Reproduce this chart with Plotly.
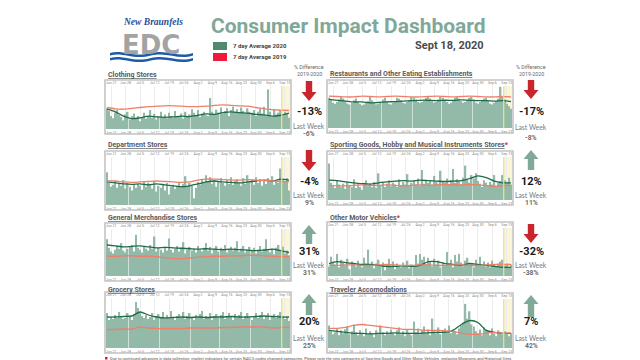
import plotly.graph_objects as go
import pandas as pd

W, H = 640, 360

# ---------------- data ----------------
dates = pd.date_range('2020-06-19', '2020-09-15', freq='D')   # daily bars (89)
line_dates = dates[::4]                                       # 7-day avg readings (23)

tick_vals = pd.date_range('2020-06-21', '2020-09-13', freq='7D')
tick_text = ['Jun 21', 'Jun 28', 'Jul 5', 'Jul 12', 'Jul 19', 'Jul 26', 'Aug 2',
             'Aug 9', 'Aug 16', 'Aug 23', 'Aug 30', 'Sep 6', 'Sep 13']

titles = ['Clothing Stores',
          'Restaurants and Other Eating Establishments',
          'Department Stores',
          'Sporting Goods, Hobby and Musical Instruments Stores',
          'General Merchandise Stores',
          'Other Motor Vehicles',
          'Grocery Stores',
          'Traveler Accomodations']
flagged = [False, False, False, True, False, True, False, False]

clothing_bars = [48, 42, 30, 25, 38, 45, 33, 28, 20, 34, 40, 22, 30, 36, 25, 30, 18, 28, 38, 24, 30,
                 44, 26, 35, 22, 30, 40, 28, 34, 25, 38, 30, 26, 42, 30, 28, 36, 24, 40, 30, 34, 46,
                 38, 30, 44, 28, 36, 40, 32, 30, 72, 40, 34, 45, 38, 50, 36, 42, 48, 30, 44, 52, 40,
                 46, 38, 50, 42, 36, 48, 40, 38, 44, 30, 40, 48, 36, 52, 30, 92, 40, 28, 46, 34, 38,
                 44, 30, 40, 36, 26]
restaurant_bars = [72, 66, 60, 58, 62, 68, 74, 70, 64, 58, 56, 60, 66, 70, 62, 58, 54, 56, 60, 64, 75,
                   66, 60, 56, 58, 62, 68, 72, 64, 58, 56, 60, 64, 72, 70, 66, 60, 58, 62, 66, 74, 72,
                   68, 62, 60, 62, 66, 72, 76, 70, 64, 60, 62, 68, 74, 72, 68, 62, 58, 60, 66, 72, 74,
                   70, 64, 60, 62, 66, 72, 74, 68, 60, 58, 62, 66, 70, 72, 64, 58, 56, 60, 64, 70, 98,
                   76, 68, 58, 52, 46]
department_bars = [68, 46, 38, 42, 50, 36, 44, 40, 52, 34, 46, 38, 30, 42, 36, 44, 40, 32, 48, 38, 46,
                   42, 34, 50, 28, 40, 36, 44, 30, 46, 22, 38, 42, 34, 40, 48, 36, 44, 60, 38, 46, 40,
                   14, 36, 48, 42, 54, 46, 62, 50, 58, 44, 52, 38, 48, 56, 46, 40, 52, 44, 58, 42, 50,
                   54, 46, 40, 56, 44, 62, 48, 52, 42, 58, 46, 54, 40, 50, 44, 56, 48, 60, 42, 52, 46,
                   76, 54, 48, 56, 30]
sporting_bars = [85, 40, 32, 28, 46, 36, 30, 38, 26, 42, 34, 30, 48, 28, 36, 30, 24, 40, 46, 32, 38,
                 30, 42, 28, 62, 34, 40, 30, 38, 46, 32, 40, 36, 30, 48, 34, 42, 36, 60, 32, 40, 44,
                 36, 50, 34, 70, 38, 44, 40, 46, 36, 56, 42, 38, 68, 44, 40, 50, 36, 46, 72, 40, 48,
                 44, 36, 52, 80, 46, 40, 58, 50, 62, 44, 38, 30, 46, 40, 34, 42, 36, 58, 32, 40, 44,
                 58, 46, 40, 52, 36]
general_bars = [78, 60, 52, 48, 56, 64, 58, 70, 54, 50, 58, 62, 66, 52, 88, 60, 56, 50, 62, 58, 54,
                66, 58, 84, 52, 60, 56, 50, 62, 54, 80, 56, 50, 58, 64, 52, 60, 72, 48, 56, 62, 54,
                58, 50, 64, 56, 52, 60, 70, 54, 62, 48, 58, 64, 52, 60, 56, 66, 50, 58, 62, 54, 60,
                74, 52, 58, 64, 50, 56, 62, 54, 60, 48, 56, 64, 52, 58, 78, 54, 50, 58, 46, 60, 66,
                56, 62, 48, 54, 44]
motor_bars = [20, 40, 30, 24, 46, 18, 34, 28, 22, 36, 14, 30, 26, 20, 32, 24, 18, 38, 26, 55, 22,
              30, 16, 26, 34, 20, 28, 12, 24, 36, 18, 30, 14, 26, 20, 18, 28, 22, 32, 16, 24, 20,
              44, 26, 46, 34, 40, 24, 38, 30, 20, 36, 24, 32, 18, 28, 22, 50, 26, 34, 18, 44, 30,
              46, 28, 20, 32, 38, 24, 26, 18, 34, 24, 40, 22, 30, 20, 28, 18, 32, 24, 20, 26, 30,
              34, 22, 26, 18, 24]
grocery_bars = [70, 56, 62, 58, 66, 60, 72, 64, 58, 60, 70, 62, 56, 68, 92, 80, 70, 64, 60, 66, 58,
                62, 70, 56, 64, 68, 60, 72, 58, 66, 60, 74, 62, 56, 64, 68, 60, 72, 58, 64, 70, 62,
                56, 66, 60, 68, 74, 58, 64, 62, 70, 56, 64, 68, 60, 66, 72, 58, 64, 70, 62, 56, 68,
                60, 66, 72, 58, 64, 70, 62, 56, 64, 70, 60, 66, 72, 58, 64, 70, 56, 62, 68, 60, 66,
                72, 64, 58, 62, 54]
traveler_bars = [46, 34, 28, 32, 40, 26, 36, 30, 38, 44, 28, 34, 48, 32, 26, 36, 30, 24, 40, 28, 34,
                 30, 22, 36, 28, 46, 32, 26, 34, 28, 38, 30, 26, 36, 42, 28, 34, 24, 38, 30, 26, 54,
                 32, 40, 28, 36, 44, 30, 38, 26, 60, 34, 30, 42, 28, 36, 40, 32, 46, 30, 38, 34, 28,
                 40, 46, 52, 90, 60, 75, 48, 44, 34, 30, 38, 26, 42, 36, 34, 26, 40, 30, 24, 36, 32,
                 28, 34, 30, 24, 30]

clothing_2020 = [46, 40, 30, 24, 26, 30, 28, 27, 28, 30, 29, 32, 35, 34, 38, 40, 38, 37, 34, 33, 30, 32, 37]
clothing_2019 = [50, 47, 46, 48, 50, 52, 53, 54, 54, 53, 52, 52, 53, 55, 56, 55, 54, 53, 50, 47, 45, 44, 43]
restaurant_2020 = [68, 66, 64, 62, 62, 60, 61, 62, 63, 64, 65, 66, 66, 65, 66, 66, 67, 66, 65, 65, 64, 65, 63]
restaurant_2019 = [76, 75, 74, 74, 76, 75, 74, 75, 76, 75, 74, 74, 75, 76, 75, 74, 75, 76, 75, 74, 74, 75, 74]
department_2020 = [48, 46, 44, 43, 44, 42, 44, 42, 40, 38, 40, 44, 48, 50, 48, 47, 46, 48, 50, 52, 50, 54, 52]
department_2019 = [50, 50, 48, 47, 48, 49, 50, 49, 48, 47, 48, 52, 54, 54, 53, 52, 52, 53, 52, 51, 50, 49, 48]
sporting_2020 = [46, 45, 42, 40, 38, 37, 40, 42, 44, 45, 44, 46, 45, 44, 43, 44, 45, 50, 56, 52, 44, 40, 40]
sporting_2019 = [34, 33, 33, 34, 35, 34, 34, 35, 34, 33, 34, 35, 34, 35, 36, 35, 35, 36, 35, 34, 32, 33, 34]
general_2020 = [66, 64, 62, 63, 64, 62, 60, 61, 60, 59, 58, 57, 58, 57, 56, 57, 56, 55, 54, 55, 57, 54, 50]
general_2019 = [42, 42, 43, 43, 42, 42, 41, 39, 37, 37, 38, 40, 41, 42, 42, 43, 43, 44, 44, 43, 42, 41, 41]
motor_2020 = [26, 30, 28, 26, 24, 24, 22, 20, 20, 21, 20, 22, 30, 30, 26, 24, 22, 26, 24, 22, 20, 18, 18]
motor_2019 = [22, 22, 23, 23, 22, 22, 23, 24, 23, 22, 22, 23, 23, 22, 22, 23, 23, 22, 22, 23, 24, 24, 24]
grocery_2020 = [62, 62, 63, 64, 72, 66, 62, 60, 61, 62, 61, 62, 61, 62, 62, 63, 62, 62, 63, 64, 63, 62, 62]
grocery_2019 = [37, 37, 38, 38, 42, 40, 39, 39, 39, 39, 40, 40, 40, 40, 41, 41, 42, 42, 42, 42, 40, 41, 41]
traveler_2020 = [36, 34, 32, 30, 30, 29, 30, 30, 31, 30, 30, 30, 31, 32, 32, 36, 48, 56, 52, 36, 32, 30, 30]
traveler_2019 = [40, 40, 42, 46, 48, 46, 44, 42, 40, 38, 38, 37, 36, 36, 35, 34, 30, 28, 28, 30, 32, 30, 31]

bars_all = [clothing_bars, restaurant_bars, department_bars, sporting_bars,
            general_bars, motor_bars, grocery_bars, traveler_bars]
avg2020_all = [clothing_2020, restaurant_2020, department_2020, sporting_2020,
               general_2020, motor_2020, grocery_2020, traveler_2020]
avg2019_all = [clothing_2019, restaurant_2019, department_2019, sporting_2019,
               general_2019, motor_2019, grocery_2019, traveler_2019]

pct_diff = ['-13%', '-17%', '-4%', '12%', '31%', '-32%', '20%', '7%']
last_week = ['-6%', '-8%', '9%', '11%', '31%', '-38%', '25%', '42%']

# ---------------- styling / geometry ----------------
BAR_C = '#93b9a8'
G_LINE = '#1f6a47'
R_LINE = '#ee7f6a'
UP_C = '#82a898'
DOWN_C = '#c9252d'

col_x = [(97, 283), (319, 505)]
ind_x = [301, 523]
frames_y = [(72, 126), (72, 125), (143, 202), (143, 197),
            (215, 273), (214, 273), (284, 345), (285, 345)]
title_y = [67, 66, 137, 137, 210, 210, 282, 282]
ind_rows = [  # arrow top, arrow bottom, pct y, "Last Week" y, value y
    (73, 93, 103, 118, 126.5), (72, 91, 103, 119, 130),
    (142, 163, 173, 187, 195), (142, 162, 173, 187, 195),
    (217, 236, 243, 257, 265), (216, 235, 243, 257, 264.5),
    (286, 307, 313, 329.5, 337.5), (287, 309, 313, 329.5, 337.5)]


def px(x):
    return x / W


def py(y):
    return 1 - y / H


fig = go.Figure()
layout = dict(width=W, height=H, margin=dict(l=0, r=0, t=0, b=0),
              paper_bgcolor='white', plot_bgcolor='white', showlegend=False,
              bargap=0.28, font=dict(family='Roboto, Arial, sans-serif'))
shapes, annotations = [], []
x_range = ['2020-06-18 12:00', '2020-09-15 12:00']

for i in range(8):
    k = i + 1
    col = i % 2
    x0, x1 = col_x[col]
    fy0, fy1 = frames_y[i]
    nb, nt = 2 * k - 1, 2 * k
    xb = 'x' if nb == 1 else f'x{nb}'
    xt = f'x{nt}'
    yk = 'y' if k == 1 else f'y{k}'
    xdom = [px(x0 + 1), px(x1 - 1)]
    ydom = [py(fy1 - 5), py(fy0 + 6)]

    fig.add_trace(go.Bar(x=dates, y=bars_all[i], marker=dict(color=BAR_C, line_width=0),
                         xaxis=xb, yaxis=yk))
    fig.add_trace(go.Scatter(x=line_dates, y=avg2020_all[i], mode='lines',
                             line=dict(color=G_LINE, width=1.3, shape='spline', smoothing=0.8),
                             xaxis=xb, yaxis=yk))
    fig.add_trace(go.Scatter(x=line_dates, y=avg2019_all[i], mode='lines',
                             line=dict(color=R_LINE, width=1.3, shape='spline', smoothing=0.8),
                             xaxis=xt, yaxis=yk))

    axfont = dict(size=3.6, color='#888888')
    layout['xaxis' if nb == 1 else f'xaxis{nb}'] = dict(
        domain=xdom, anchor=yk, range=x_range, type='date', side='bottom',
        tickvals=tick_vals, ticktext=tick_text, tickfont=axfont, ticklen=0,
        showgrid=True, gridcolor='#ececec', gridwidth=0.6, zeroline=False, showline=False)
    layout[f'xaxis{nt}'] = dict(
        overlaying=xb, anchor=yk, range=x_range, type='date', side='top',
        tickvals=tick_vals, ticktext=tick_text, tickfont=axfont, ticklen=0,
        showgrid=False, zeroline=False, showline=False)
    layout['yaxis' if k == 1 else f'yaxis{k}'] = dict(
        domain=ydom, anchor=xb, range=[0, 100], showticklabels=False,
        showgrid=False, zeroline=False, showline=False)

    # current-week highlight
    shapes.append(dict(type='rect', xref=xb, yref=f'{yk} domain', x0='2020-09-11 12:00',
                       x1=x_range[1], y0=0, y1=1, fillcolor='#fbf5d8', line_width=0, layer='below'))
    shapes.append(dict(type='line', xref=xb, yref=f'{yk} domain', x0='2020-09-11 12:00',
                       x1='2020-09-11 12:00', y0=0, y1=1, line=dict(color='#ece07c', width=1.2)))
    # frame
    shapes.append(dict(type='rect', xref='paper', yref='paper', x0=px(x0), x1=px(x1),
                       y0=py(fy1), y1=py(fy0), line=dict(color='#c4c4c4', width=1.6)))

    # title
    t = f'<b><u>{titles[i]}</u></b>'
    if flagged[i]:
        t += "<span style='color:#e8132c'><b>*</b></span>"
    annotations.append(dict(text=t, x=px(x0 + 1), y=py(title_y[i]), xref='paper', yref='paper',
                            xanchor='left', yanchor='middle', showarrow=False,
                            font=dict(size=7, color='#5a5a5a', family='Roboto')))

    # indicator arrow
    cx = ind_x[col]
    at, ab, pyv, lwy, vy = ind_rows[i]
    hw, sw, hh = 7.5, 3.2, 9
    down = pct_diff[i].startswith('-')
    if down:
        pts = [(cx - sw, at), (cx + sw, at), (cx + sw, ab - hh), (cx + hw, ab - hh),
               (cx, ab), (cx - hw, ab - hh), (cx - sw, ab - hh)]
    else:
        pts = [(cx - sw, ab), (cx + sw, ab), (cx + sw, at + hh), (cx + hw, at + hh),
               (cx, at), (cx - hw, at + hh), (cx - sw, at + hh)]
    path = 'M ' + ' L '.join(f'{px(a):.5f},{py(b):.5f}' for a, b in pts) + ' Z'
    shapes.append(dict(type='path', xref='paper', yref='paper', path=path,
                       fillcolor=DOWN_C if down else UP_C, line_width=0))
    annotations.append(dict(text=f'<b>{pct_diff[i]}</b>', x=px(cx), y=py(pyv), xref='paper',
                            yref='paper', showarrow=False, xanchor='center', yanchor='middle',
                            font=dict(size=11, color='#1a1a1a', family='Roboto')))
    annotations.append(dict(text='Last Week', x=px(cx), y=py(lwy), xref='paper', yref='paper',
                            showarrow=False, xanchor='center', yanchor='middle',
                            font=dict(size=6.8, color='#7a7a7a', family='Lato')))
    annotations.append(dict(text=f'<b>{last_week[i]}</b>', x=px(cx), y=py(vy), xref='paper',
                            yref='paper', showarrow=False, xanchor='center', yanchor='middle',
                            font=dict(size=6.8, color='#6e6e6e', family='Roboto')))

# "% Difference" headers
for cx in ind_x:
    annotations.append(dict(text='% Difference', x=px(cx), y=py(59), xref='paper',
                            yref='paper', showarrow=False, xanchor='center', yanchor='middle',
                            font=dict(size=5.3, color='#666666')))
    annotations.append(dict(text='2019-2020', x=px(cx), y=py(66), xref='paper',
                            yref='paper', showarrow=False, xanchor='center', yanchor='middle',
                            font=dict(size=5.3, color='#666666')))

# header: title, date, legend
annotations.append(dict(text='<b>Consumer Impact Dashboard</b>', x=px(340), y=py(18),
                        xref='paper', yref='paper', showarrow=False, xanchor='center',
                        yanchor='middle', font=dict(size=21, color='#80a898', family='Roboto')))
annotations.append(dict(text='<b>Sept 18, 2020</b>', x=px(478), y=py(38), xref='paper',
                        yref='paper', showarrow=False, xanchor='right', yanchor='middle',
                        font=dict(size=11, color='#4a4a4a', family='Roboto')))
legend_items = [('7 day Average 2020', '#4f8a6e', 38), ('7 day Average 2019', '#ee1c3a', 49)]
for lab, c, ly in legend_items:
    shapes.append(dict(type='rect', xref='paper', yref='paper', x0=px(205), x1=px(219),
                       y0=py(ly + 4), y1=py(ly - 4), fillcolor=c, line_width=0))
    annotations.append(dict(text=f'<b>{lab}</b>', x=px(223), y=py(ly), xref='paper', yref='paper',
                            showarrow=False, xanchor='left', yanchor='middle',
                            font=dict(size=6, color='#444444', family='Roboto')))

# logo
annotations.append(dict(text='<b><i>New Braunfels</i></b>', x=px(145), y=py(14.5), xref='paper',
                        yref='paper', showarrow=False, xanchor='center', yanchor='middle',
                        font=dict(size=9.5, color='#1d4f9c', family='Liberation Serif')))
annotations.append(dict(text='<b>EDC</b>', x=px(143), y=py(37), xref='paper', yref='paper',
                        showarrow=False, xanchor='center', yanchor='middle',
                        font=dict(size=26, color='#a3a3a3', family='DejaVu Sans')))
for off in (0, 5):
    path = (f'M {px(102):.5f},{py(45 + off):.5f} C {px(115):.5f},{py(41 + off):.5f} '
            f'{px(125):.5f},{py(50 + off):.5f} {px(143):.5f},{py(45 + off):.5f} '
            f'C {px(160):.5f},{py(41 + off):.5f} {px(170):.5f},{py(50 + off):.5f} '
            f'{px(185):.5f},{py(45 + off):.5f} L {px(185):.5f},{py(47.5 + off):.5f} '
            f'C {px(170):.5f},{py(52.5 + off):.5f} {px(160):.5f},{py(43.5 + off):.5f} '
            f'{px(143):.5f},{py(47.5 + off):.5f} C {px(125):.5f},{py(52.5 + off):.5f} '
            f'{px(115):.5f},{py(43.5 + off):.5f} {px(102):.5f},{py(47.5 + off):.5f} Z')
    shapes.append(dict(type='path', xref='paper', yref='paper', path=path,
                       fillcolor='#1f5aa6', line_width=0))

# footnote
shapes.append(dict(type='rect', xref='paper', yref='paper', x0=px(97), x1=px(99.5),
                   y0=py(351.5), y1=py(349), fillcolor='#e8132c', line_width=0))
annotations.append(dict(
    text='Due to continued advances in data collection, market indicators for certain NAICS codes '
         'changed categories. Please note the new categories of Sporting Goods and Other Motor '
         'Vehicles, replacing Museums and Historical Sites',
    x=px(100), y=py(350.2), xref='paper', yref='paper', showarrow=False, xanchor='left',
    yanchor='middle', font=dict(size=4.0, color='#555555', family='Liberation Sans Narrow, Roboto')))

layout['shapes'] = shapes
layout['annotations'] = annotations
fig.update_layout(**layout)
fig.write_html('out.html')
